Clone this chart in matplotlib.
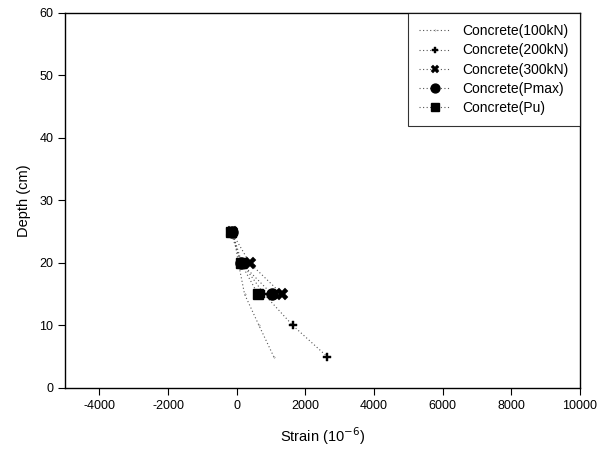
import numpy as np
import matplotlib
matplotlib.use("Agg")
from matplotlib import pyplot as plt

plt.rcParams['font.family'] = ['Liberation Sans', 'DejaVu Sans']
plt.rcParams['axes.unicode_minus'] = False

# depth (cm) and strain (1e-6) for each load step
depth_100 = [25, 20, 15, 10, 5]
strain_100 = [-100, 50, 230, 650, 1080]

depth_200 = [25, 20, 15, 10, 5]
strain_200 = [-130, 150, 800, 1635, 2640]

depth_300 = [25, 20, 15]
strain_300 = [-150, 380, 1320]

depth_pmax = [25, 20, 15]
strain_pmax = [-150, 130, 1030]

depth_pu = [25, 20, 15]
strain_pu = [-170, 120, 620]

labels = ['Concrete(100kN)', 'Concrete(200kN)', 'Concrete(300kN)',
          'Concrete(Pmax)', 'Concrete(Pu)']

fig = plt.figure(figsize=(6.02, 4.59), dpi=100)
ax = fig.add_axes([0.108, 0.1547, 0.8555, 0.817])

ls = dict(color='#555555', linestyle=(0, (1, 2.2)), linewidth=0.8)
ax.plot(strain_100, depth_100, marker='.', markersize=0.5, label=labels[0], **ls)
ax.plot(strain_200, depth_200, marker='P', markersize=6, markerfacecolor='black',
        markeredgecolor='black', markeredgewidth=0.3, label=labels[1], **ls)
ax.plot(strain_300, depth_300, marker='X', markersize=8, markerfacecolor='black',
        markeredgecolor='black', markeredgewidth=0.3, label=labels[2], **ls)
ax.plot(strain_pmax, depth_pmax, marker='o', markersize=8, markerfacecolor='black',
        markeredgecolor='black', label=labels[3], **ls)
ax.plot(strain_pu, depth_pu, marker='s', markersize=7.5, markerfacecolor='black',
        markeredgecolor='black', label=labels[4], **ls)

ax.set_xlim(-5000, 10000)
ax.set_ylim(0, 60)
ax.set_xticks([-4000, -2000, 0, 2000, 4000, 6000, 8000, 10000])
ax.set_yticks([0, 10, 20, 30, 40, 50, 60])
ax.tick_params(direction='out', length=5, width=0.8, labelsize=9, colors='black')
for s in ax.spines.values():
    s.set_linewidth(1.0)
    s.set_color('black')

ax.set_xlabel('Strain (10$^{-6}$)', fontsize=10.5, labelpad=10)
ax.set_ylabel('Depth (cm)', fontsize=10.5, labelpad=6)

leg = ax.legend(loc='upper right', bbox_to_anchor=(1.0, 1.0), borderaxespad=0,
                fontsize=10, frameon=True, fancybox=False, handlelength=2.3,
                borderpad=0.8, labelspacing=0.38, handletextpad=0.85,
                markerscale=0.8)
leg.get_frame().set_edgecolor('black')
leg.get_frame().set_linewidth(0.8)

fig.savefig('out.png', dpi=100)
